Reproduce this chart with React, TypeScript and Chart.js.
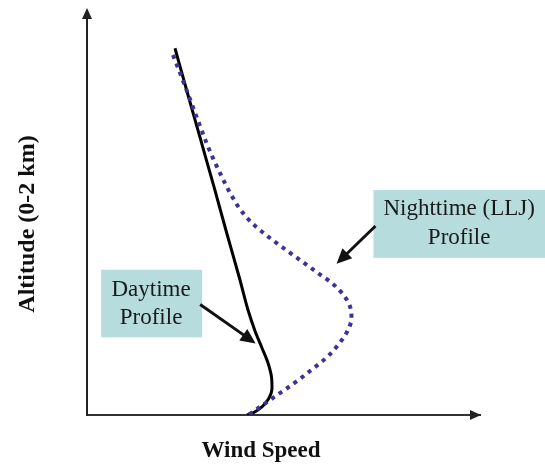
import React, { useEffect, useRef } from "react";
import { Chart, registerables } from "chart.js";

Chart.register(...registerables);

// Daytime wind profile (wind speed, arbitrary units; altitude, km)
const dayAltitude = [2.002, 1.747, 1.496, 1.245, 0.988, 0.737, 0.573, 0.459, 0.366, 0.284, 0.207, 0.147, 0.087, 0.045, 0.014, 0];
const daySpeed = [2.239, 2.57, 2.901, 3.232, 3.562, 3.893, 4.097, 4.275, 4.453, 4.606, 4.695, 4.707, 4.618, 4.453, 4.249, 4.071];

// Nighttime (low-level jet) wind profile
const nightAltitude = [1.965, 1.84, 1.709, 1.578, 1.452, 1.332, 1.223, 1.124, 1.048, 0.983, 0.917, 0.846, 0.775, 0.71, 0.644, 0.584, 0.53, 0.464, 0.388, 0.311, 0.24, 0.169, 0.109, 0.055, 0];
const nightSpeed = [2.188, 2.417, 2.646, 2.875, 3.104, 3.359, 3.613, 3.893, 4.198, 4.555, 4.962, 5.42, 5.878, 6.285, 6.565, 6.705, 6.73, 6.641, 6.412, 6.081, 5.674, 5.242, 4.835, 4.478, 4.1];

const seriesLabels = ["Daytime Profile", "Nighttime (LLJ) Profile"];
const xTitle = "Wind Speed";
const yTitle = "Altitude (0-2 km)";

const xMin = 0;
const xMax = 10;
const yMin = 0;
const yMax = 2.2;

// Callout labels (anchored in data units)
const dayLabelLines = ["Daytime", "Profile"];
const nightLabelLines = ["Nighttime (LLJ)", "Profile"];

const FONT = "'Liberation Serif', 'Times New Roman', serif";

const annotations = [
  {
    lines: dayLabelLines,
    box: { x0: 0.36, x1: 2.93, y0: 0.793, y1: 0.424 },
    textX: 1.63,
    textY: [0.684, 0.532],
    arrow: { x0: 2.88, y0: 0.603, x1: 4.29, y1: 0.391 },
  },
  {
    lines: nightLabelLines,
    box: { x0: 7.29, x1: 11.7, y0: 1.228, y1: 0.858 },
    textX: 9.47,
    textY: [1.124, 0.967],
    arrow: { x0: 7.34, y0: 1.032, x1: 6.35, y1: 0.826 },
  },
];

function drawArrowHead(ctx: CanvasRenderingContext2D, x0: number, y0: number, x1: number, y1: number, len: number, half: number) {
  const a = Math.atan2(y1 - y0, x1 - x0);
  const bx = x1 - Math.cos(a) * len;
  const by = y1 - Math.sin(a) * len;
  const nx = -Math.sin(a) * half;
  const ny = Math.cos(a) * half;
  ctx.beginPath();
  ctx.moveTo(x1, y1);
  ctx.lineTo(bx + nx, by + ny);
  ctx.lineTo(bx - nx, by - ny);
  ctx.closePath();
  ctx.fill();
}

const decorPlugin = {
  id: "decor",
  afterDraw(chart: any) {
    const { ctx, chartArea, scales } = chart;
    const xs = scales.x;
    const ys = scales.y;
    ctx.save();

    // axis arrowheads
    ctx.fillStyle = "#222";
    drawArrowHead(ctx, chartArea.right - 20, chartArea.bottom, chartArea.right + 1, chartArea.bottom, 11, 5);
    drawArrowHead(ctx, chartArea.left, chartArea.top + 20, chartArea.left, chartArea.top - 4, 11, 5);

    // axis titles
    ctx.fillStyle = "#111";
    ctx.font = `bold 23px ${FONT}`;
    ctx.textAlign = "center";
    ctx.textBaseline = "alphabetic";
    ctx.fillText(xTitle, 261, 457);
    ctx.save();
    ctx.translate(34, 224);
    ctx.rotate(-Math.PI / 2);
    ctx.font = `bold 24px ${FONT}`;
    ctx.fillText(yTitle, 0, 0);
    ctx.restore();

    // callouts
    for (const an of annotations) {
      const bx0 = xs.getPixelForValue(an.box.x0);
      const bx1 = xs.getPixelForValue(an.box.x1);
      const by0 = ys.getPixelForValue(an.box.y0);
      const by1 = ys.getPixelForValue(an.box.y1);
      ctx.fillStyle = "#b6dcdd";
      ctx.fillRect(bx0, by0, bx1 - bx0, by1 - by0);
      ctx.fillStyle = "#1a1a1a";
      ctx.font = `23px ${FONT}`;
      ctx.textAlign = "center";
      ctx.textBaseline = "middle";
      an.lines.forEach((ln, i) => {
        ctx.fillText(ln, xs.getPixelForValue(an.textX), ys.getPixelForValue(an.textY[i]));
      });
      const ax0 = xs.getPixelForValue(an.arrow.x0);
      const ay0 = ys.getPixelForValue(an.arrow.y0);
      const ax1 = xs.getPixelForValue(an.arrow.x1);
      const ay1 = ys.getPixelForValue(an.arrow.y1);
      const ang = Math.atan2(ay1 - ay0, ax1 - ax0);
      ctx.strokeStyle = "#111";
      ctx.lineWidth = 3;
      ctx.beginPath();
      ctx.moveTo(ax0, ay0);
      ctx.lineTo(ax1 - Math.cos(ang) * 10, ay1 - Math.sin(ang) * 10);
      ctx.stroke();
      ctx.fillStyle = "#111";
      drawArrowHead(ctx, ax0, ay0, ax1, ay1, 15, 7);
    }
    ctx.restore();
  },
};

export default function App() {
  const ref = useRef<HTMLCanvasElement>(null);

  useEffect(() => {
    if (!ref.current) return;
    Chart.defaults.font.family = FONT;
    const chart = new Chart(ref.current, {
      type: "scatter",
      data: {
        datasets: [
          {
            label: seriesLabels[1],
            data: nightSpeed.map((v, i) => ({ x: v, y: nightAltitude[i] })),
            showLine: true,
            borderColor: "#3a3399",
            borderWidth: 4,
            borderDash: [4, 5],
            borderCapStyle: "butt",
            pointRadius: 0,
            cubicInterpolationMode: "monotone",
            fill: false,
          },
          {
            label: seriesLabels[0],
            data: daySpeed.map((v, i) => ({ x: v, y: dayAltitude[i] })),
            showLine: true,
            borderColor: "#000000",
            borderWidth: 3,
            pointRadius: 0,
            cubicInterpolationMode: "monotone",
            fill: false,
          },
        ],
      },
      options: {
        animation: false,
        responsive: false,
        devicePixelRatio: 1,
        indexAxis: "y",
        layout: { padding: { left: 87, right: 65, top: 12, bottom: 51 } },
        plugins: {
          legend: { display: false },
          tooltip: { enabled: false },
          title: { display: false },
        },
        scales: {
          x: {
            type: "linear",
            min: xMin,
            max: xMax,
            grid: { display: false, drawTicks: false },
            ticks: { display: false },
            border: { display: true, color: "#333", width: 2 },
            afterFit: (s: any) => {
              s.height = 0;
            },
          },
          y: {
            type: "linear",
            min: yMin,
            max: yMax,
            grid: { display: false, drawTicks: false },
            ticks: { display: false },
            border: { display: true, color: "#222", width: 2 },
            afterFit: (s: any) => {
              s.width = 0;
            },
          },
        },
      },
      plugins: [decorPlugin],
    } as any);
    return () => chart.destroy();
  }, []);

  return (
    <div style={{ position: "absolute", left: 0, top: 0, width: 545, height: 466, background: "#fff" }}>
      <canvas ref={ref} width={545} height={466} />
    </div>
  );
}
